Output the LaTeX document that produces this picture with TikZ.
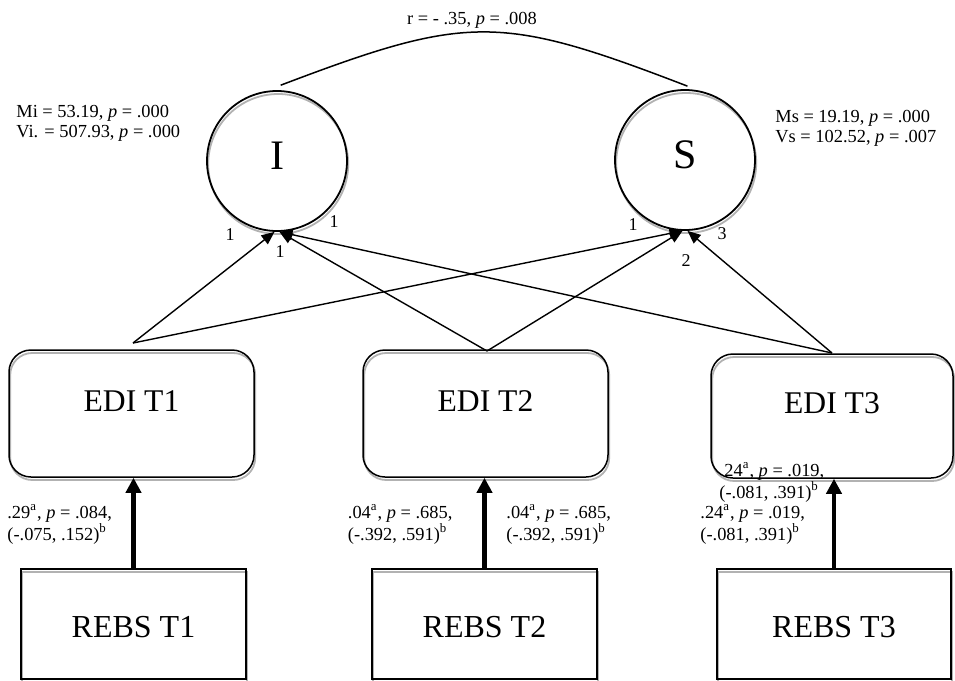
\documentclass[tikz,border=0pt]{standalone}
\usepackage{fontspec}
\setmainfont{Liberation Serif}
\usetikzlibrary{arrows.meta,shadows}

\begin{document}
\begin{tikzpicture}[x=0.5pt, y=-0.5pt,
    grayshadow/.style={drop shadow={shadow xshift=0.6pt, shadow yshift=-1.5pt, fill=none, draw=black!30, line width=0.9pt, opacity=1}},
    latent/.style={circle, draw, line width=0.9pt, minimum size=70pt, inner sep=0pt, text height=14pt, text depth=6pt, font=\fontsize{21}{24}\selectfont, grayshadow},
    indicator/.style={rectangle, draw, rounded corners=11pt, line width=0.75pt, minimum width=122.5pt, minimum height=63.5pt, text height=10pt, text depth=12.5pt, font=\fontsize{15.8}{18}\selectfont, grayshadow},
    observed/.style={rectangle, draw, line width=0.75pt, minimum width=112.5pt, minimum height=55pt, text height=13.5pt, text depth=0pt, font=\fontsize{16}{18}\selectfont, grayshadow},
    note/.style={font=\fontsize{9.2}{10}\selectfont, align=left, inner sep=0pt},
    weight/.style={font=\fontsize{9}{10}\selectfont, inner sep=0pt},
    loading/.style={line width=0.7pt, -{Triangle[length=6.5pt, width=5.5pt]}},
    effect/.style={line width=2.2pt, -{Triangle[length=7.5pt, width=7.5pt]}}]
    \useasboundingbox (0, 0) rectangle (955, 681);

    % growth factors
    \node[latent] (I) at (277, 161) {I};
    \node[latent] (S) at (685, 160) {S};

    % measures
    \node[indicator] (E1) at (131.5, 413.5) {EDI T1};
    \node[indicator] (E2) at (485.5, 413.5) {EDI T2};
    \node[indicator, minimum width=121pt, minimum height=62pt] (E3) at (832, 416) {EDI T3};
    \node[observed] (R1) at (133.5, 624) {REBS T1};
    \node[observed] (R2) at (484.5, 624) {REBS T2};
    \node[observed, minimum width=117pt] (R3) at (834, 624) {REBS T3};

    % factor statistics
    \node[note, anchor=west] (mi) at (16, 123) {Mi = 53.19, \textit{p} = .000\\Vi. = 507.93, \textit{p} = .000};
    \node[note, anchor=west] (ms) at (775, 128) {Ms = 19.19, \textit{p} = .000\\Vs = 102.52, \textit{p} = .007};

    % covariance
    \draw[line width=0.75pt] ([yshift=2.5pt]I.87) .. controls (468, 14) and (500, 14) .. ([yshift=1.5pt]S.88);
    \node[note] (cov) at (472, 20.5) {r = - .35, \textit{p} = .008};

    % loadings
    \coordinate (top1) at (133, 343);
    \coordinate (top2) at (487, 351);
    \coordinate (top3) at (832, 353);
    \draw[loading] (top1) -- (I.268);
    \draw[loading] (top1) -- (S.268);
    \draw[loading] (top2) -- (I.272);
    \draw[loading] (top2) -- (S.268);
    \draw[loading] (top3) -- (I.272);
    \draw[loading] (top3) -- (S.272);
    \node[weight] (wi1) at (230, 235) {1};
    \node[weight] (wi2) at (280, 252) {1};
    \node[weight] (wi3) at (334, 222) {1};
    \node[weight] (ws1) at (633, 225) {1};
    \node[weight] (ws2) at (686, 261) {2};
    \node[weight] (ws3) at (722, 234) {3};

    % time-varying covariates
    \draw[effect] (R1.north) -- (R1.north |- E1.south);
    \draw[effect] (R2.north) -- (R2.north |- E2.south);
    \draw[effect] (R3.north) -- (R3.north |- E3.south);
    \node[note, anchor=west] (b1) at (7, 524.5) {.29\textsuperscript{a}, \textit{p} = .084,\\(-.075, .152)\textsuperscript{b}};
    \node[note, anchor=west] (b2l) at (347.5, 524.5) {.04\textsuperscript{a}, \textit{p} = .685,\\(-.392, .591)\textsuperscript{b}};
    \node[note, anchor=west] (b2r) at (506, 524.5) {.04\textsuperscript{a}, \textit{p} = .685,\\(-.392, .591)\textsuperscript{b}};
    \node[note, anchor=west] (b3u) at (719, 482.5) {\hspace*{2.5pt}24\textsuperscript{a}, \textit{p} = .019,\\(-.081, .391)\textsuperscript{b}};
    \node[note, anchor=west] (b3) at (700, 524.5) {.24\textsuperscript{a}, \textit{p} = .019,\\(-.081, .391)\textsuperscript{b}};
\end{tikzpicture}
\end{document}
